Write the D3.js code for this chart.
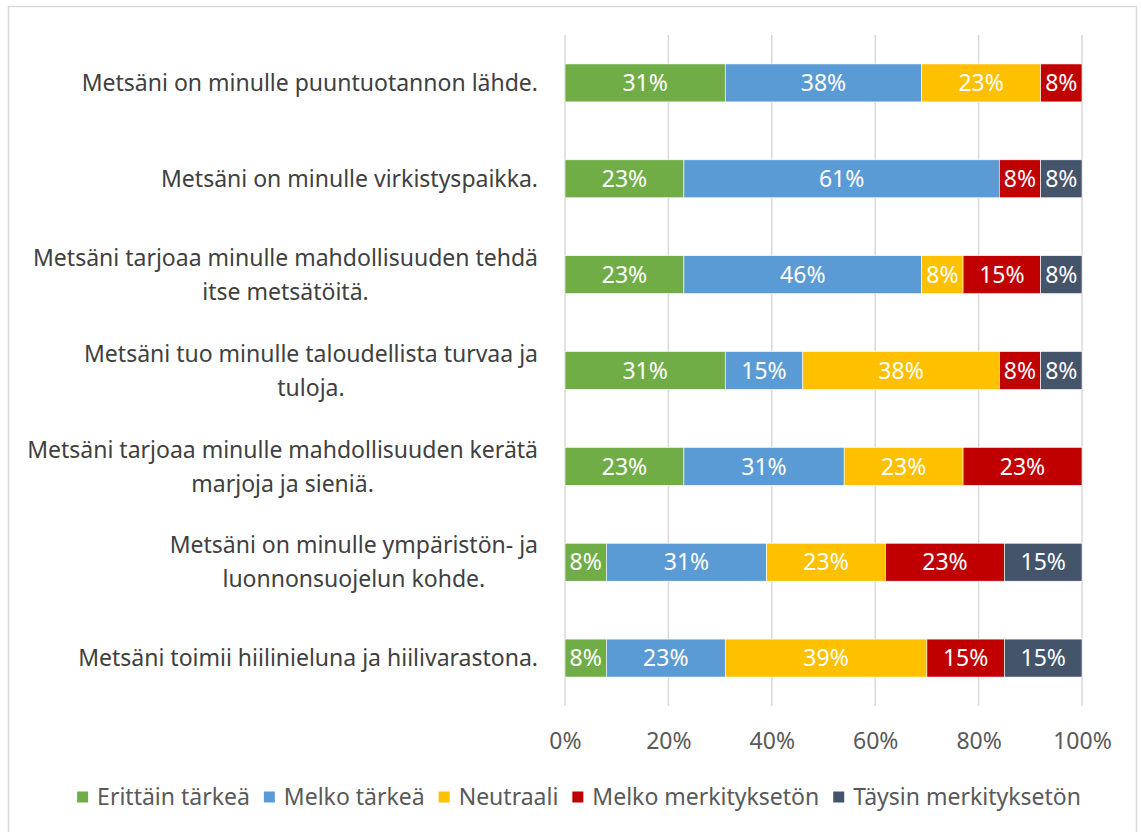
<!DOCTYPE html>
<html lang="fi">
<head>
<meta charset="UTF-8">
<title>Metsän merkitys</title>
<script src="https://cdnjs.cloudflare.com/ajax/libs/d3/7.8.5/d3.min.js"></script>
<style>
  body { margin: 0; background: #fff; }
  svg text { font-family: "Noto Sans", "Open Sans", sans-serif; }
</style>
</head>
<body>
<div id="chart"></div>
<script>
// kysymykset (rivitettynä kuten kuvassa)
var categories = [
  ["Metsäni on minulle puuntuotannon lähde."],
  ["Metsäni on minulle virkistyspaikka."],
  ["Metsäni tarjoaa minulle mahdollisuuden tehdä", "itse metsätöitä."],
  ["Metsäni tuo minulle taloudellista turvaa ja", "tuloja."],
  ["Metsäni tarjoaa minulle mahdollisuuden kerätä", "marjoja ja sieniä."],
  ["Metsäni on minulle ympäristön- ja", "luonnonsuojelun kohde."],
  ["Metsäni toimii hiilinieluna ja hiilivarastona."]
];
var seriesNames = ["Erittäin tärkeä", "Melko tärkeä", "Neutraali", "Melko merkityksetön", "Täysin merkityksetön"];
var seriesColors = ["#70ad47", "#5b9bd5", "#ffc000", "#c00000", "#44546a"];

// prosentit, yksi lista per vastausvaihtoehto (rivien järjestyksessä)
var erittainTarkea = [31, 23, 23, 31, 23, 8, 8];
var melkoTarkea    = [38, 61, 46, 15, 31, 31, 23];
var neutraali      = [23, 0, 8, 38, 23, 23, 39];
var melkoMerk      = [8, 8, 15, 8, 23, 23, 15];
var taysinMerk     = [0, 8, 8, 8, 0, 15, 15];
var xTicks = [0, 20, 40, 60, 80, 100];

var width = 1141, height = 832;
var margin = { left: 565, right: 59, top: 35, bottom: 126 };

var rows = categories.map(function(c, i) {
  return {
    idx: i,
    s0: erittainTarkea[i], s1: melkoTarkea[i], s2: neutraali[i], s3: melkoMerk[i], s4: taysinMerk[i]
  };
});
var keys = ["s0", "s1", "s2", "s3", "s4"];
var stacked = d3.stack().keys(keys)(rows);

var svg = d3.select("#chart").append("svg")
  .attr("width", width)
  .attr("height", height);

svg.append("rect")
  .attr("x", 8.5).attr("y", 6.5)
  .attr("width", 1128).attr("height", 840)
  .attr("fill", "#fff")
  .attr("stroke", "#d9d9d9")
  .attr("stroke-width", 1.5);

var x = d3.scaleLinear().domain([0, 100]).range([margin.left, width - margin.right]);
var y = d3.scaleBand().domain(d3.range(categories.length))
  .range([margin.top, height - margin.bottom])
  .paddingInner(0.604).paddingOuter(0.302);

// ruudukko
svg.append("g").selectAll("line")
  .data(xTicks)
  .join("line")
  .attr("x1", function(d) { return x(d); })
  .attr("x2", function(d) { return x(d); })
  .attr("y1", margin.top)
  .attr("y2", height - margin.bottom)
  .attr("stroke", "#d9d9d9")
  .attr("stroke-width", 1.5);

// x-akselin tekstit
var xAxis = svg.append("g")
  .attr("transform", "translate(0," + (height - margin.bottom) + ")")
  .call(d3.axisBottom(x).tickValues(xTicks).tickFormat(function(d) { return d + "%"; }).tickSize(0).tickPadding(27));
xAxis.select(".domain").remove();
xAxis.selectAll("text")
  .attr("fill", "#595959")
  .style("font-size", "23px")
  .style("font-family", '"Noto Sans", sans-serif');

// palkit
var layers = svg.append("g").selectAll("g")
  .data(stacked)
  .join("g")
  .attr("fill", function(d, i) { return seriesColors[i]; });

layers.selectAll("rect")
  .data(function(d) { return d; })
  .join("rect")
  .attr("x", function(d) { return x(d[0]); })
  .attr("y", function(d) { return y(d.data.idx); })
  .attr("width", function(d) { return x(d[1]) - x(d[0]); })
  .attr("height", y.bandwidth())
  .attr("stroke", "#fff")
  .attr("stroke-width", 0.6);

layers.selectAll("text")
  .data(function(d) { return d.filter(function(v) { return v[1] - v[0] > 0; }); })
  .join("text")
  .attr("x", function(d) { return (x(d[0]) + x(d[1])) / 2; })
  .attr("y", function(d) { return y(d.data.idx) + y.bandwidth() / 2; })
  .attr("dy", "0.36em")
  .attr("text-anchor", "middle")
  .attr("fill", "#fff")
  .style("font-size", "23px")
  .text(function(d) { return (d[1] - d[0]) + "%"; });

// kysymysten tekstit
var labelRight = 538, lineGap = 34;
var labels = svg.append("g").selectAll("g")
  .data(categories)
  .join("g");
labels.each(function(lines, i) {
  var g = d3.select(this);
  var cy = y(i) + y.bandwidth() / 2;
  var ts = g.selectAll("text")
    .data(lines)
    .join("text")
    .attr("y", function(d, j) { return cy + (j - (lines.length - 1) / 2) * lineGap; })
    .attr("dy", "0.36em")
    .attr("text-anchor", "middle")
    .attr("fill", "#404040")
    .style("font-size", "23px")
    .text(function(d) { return d; });
  var w = d3.max(ts.nodes(), function(n) { return n.getComputedTextLength(); });
  ts.attr("x", labelRight - w / 2);
});

// selite
var legend = svg.append("g");
var items = legend.selectAll("g")
  .data(seriesNames)
  .join("g");
items.append("rect")
  .attr("width", 11).attr("height", 11)
  .attr("y", -5.5)
  .attr("fill", function(d, i) { return seriesColors[i]; });
items.append("text")
  .attr("x", 20)
  .attr("dy", "0.36em")
  .attr("fill", "#595959")
  .style("font-size", "23px")
  .text(function(d) { return d; });
var offset = 0;
items.each(function() {
  var g = d3.select(this);
  g.attr("transform", "translate(" + offset + ",0)");
  offset += 20 + g.select("text").node().getComputedTextLength() + 14;
});
offset -= 14;
legend.attr("transform", "translate(" + (579 - offset / 2) + ",797)");
</script>
</body>
</html>
